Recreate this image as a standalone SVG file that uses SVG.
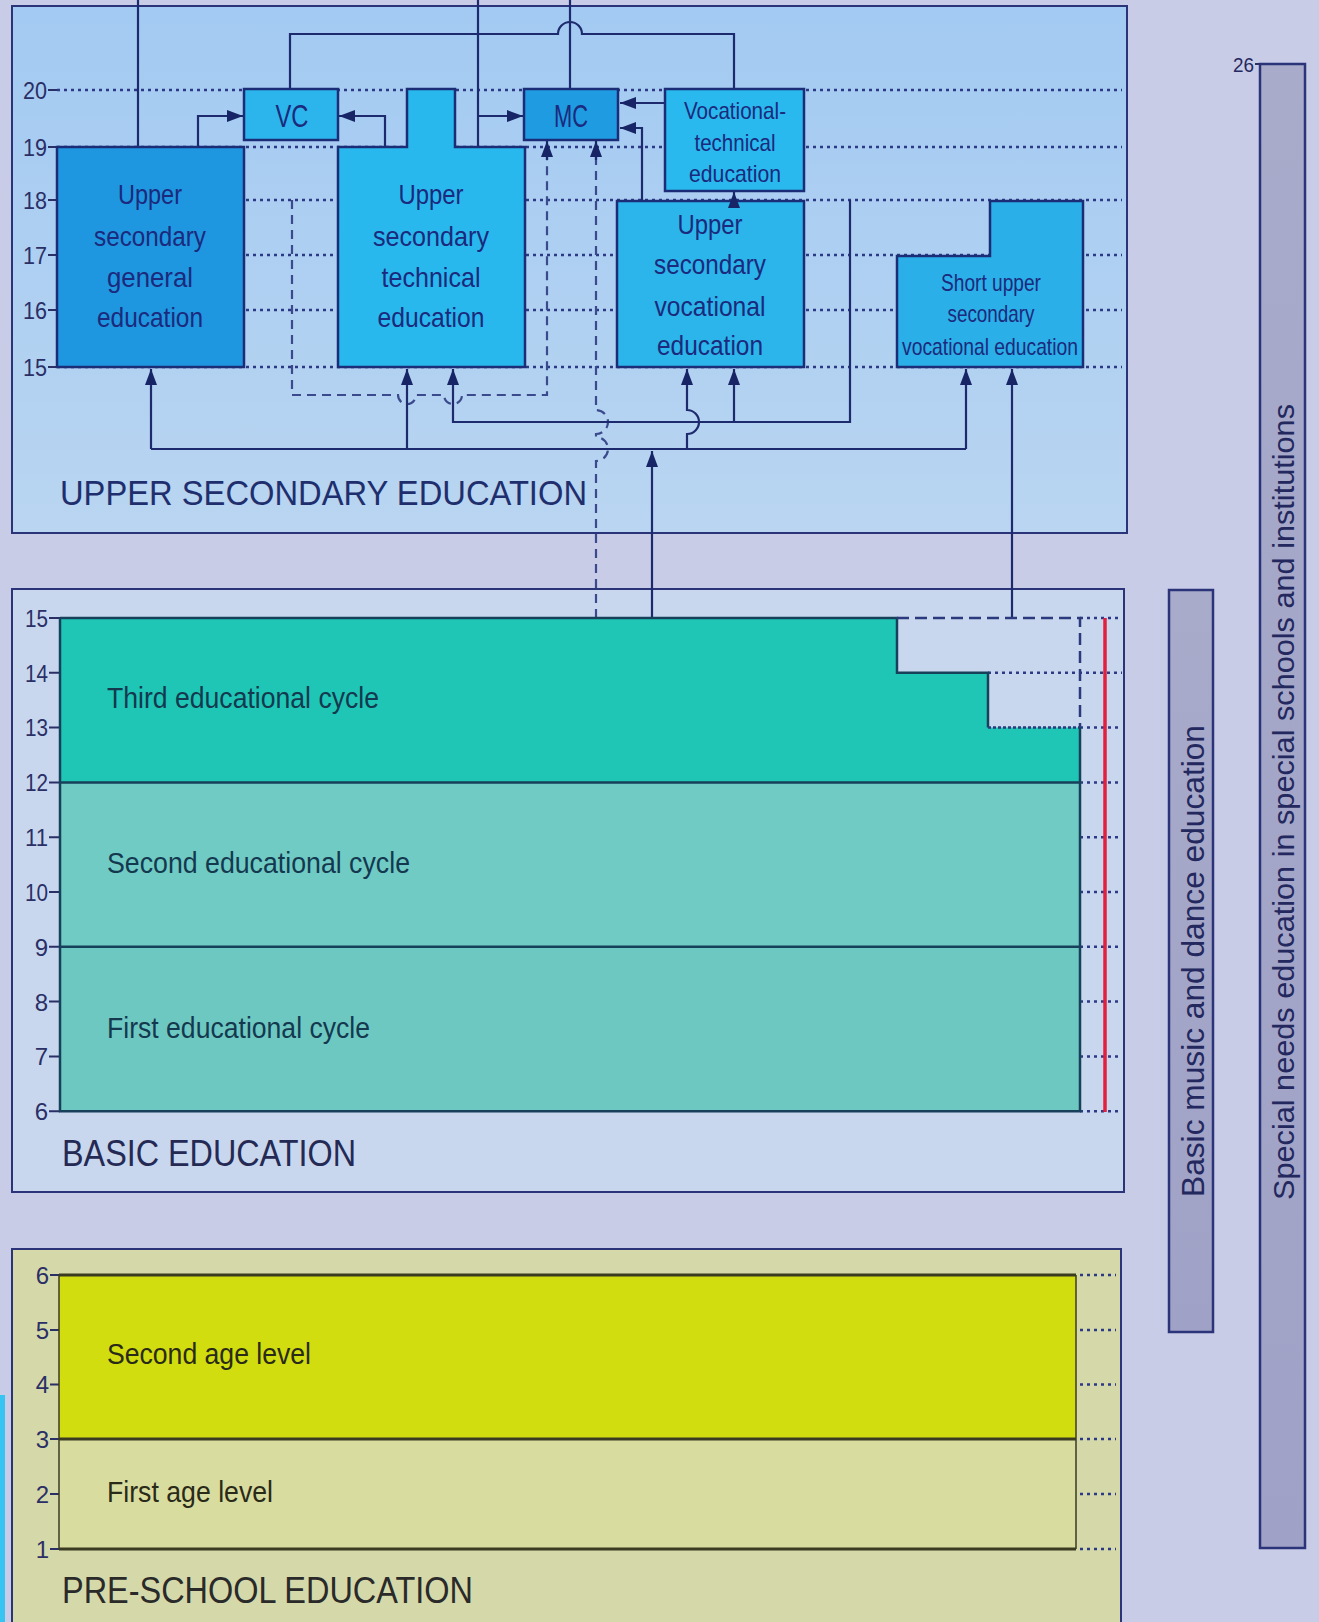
<svg xmlns="http://www.w3.org/2000/svg" width="1319" height="1622" viewBox="0 0 1319 1622">
<defs>
<linearGradient id="gUp" x1="0" y1="0" x2="0" y2="1"><stop offset="0" stop-color="#a3caf2"/><stop offset="1" stop-color="#b9d5f1"/></linearGradient>
<linearGradient id="gBar" x1="0" y1="0" x2="0" y2="1"><stop offset="0" stop-color="#a9abcb"/><stop offset="1" stop-color="#9fa1c6"/></linearGradient>
<marker id="arr" viewBox="0 0 16 12" refX="16" refY="6" markerWidth="16" markerHeight="12" markerUnits="userSpaceOnUse" orient="auto"><path d="M0,0 L16,6 L0,12 z" fill="#172466"/></marker>
<style>
text{font-family:"Liberation Sans",Arial,sans-serif}
.panel{stroke:#2b3478;stroke-width:2}
.box{stroke:#1c2d78;stroke-width:2.5}
.bt{fill:#1b2a7c;font-size:28px;text-anchor:middle}
.bs{fill:#1b2a7c;font-size:24px;text-anchor:middle}
.tick{fill:#2a2f66;font-size:24px;text-anchor:end}
.grid{stroke:#2c3a86;stroke-width:2.5;stroke-dasharray:3 4;fill:none}
.conn{stroke:#1d2a6e;stroke-width:2.2;fill:none}
.dash{stroke:#3a4a8c;stroke-width:2.2;stroke-dasharray:9 6;fill:none}
.tk{stroke:#2a2f66;stroke-width:2}
.cl{fill:#14394f;font-size:30px}
.pl{fill:#2a2a18;font-size:30px}
.title{font-size:36px}
.side{fill:#23285e;font-size:31px}
</style>
</defs>
<rect width="1319" height="1622" fill="#c9cce7"/>
<rect x="0" y="1395" width="5" height="227" fill="#36c4f2"/>

<!-- panels -->
<g id="upper-secondary-panel">
<rect class="panel" x="12" y="6" width="1115" height="527" fill="url(#gUp)"/>
</g>
<g id="basic-panel">
<rect class="panel" x="12" y="589" width="1112" height="603" fill="#c8d7ee"/>
</g>
<g id="preschool-panel">
<rect class="panel" x="12" y="1249" width="1109" height="390" fill="#d5d9a9"/>
</g>

<!-- upper grid -->
<g id="upper-grid">
<path class="grid" d="M57,90 H1122 M57,147 H1122 M57,200 H1122 M57,255 H1122 M57,310 H1122 M57,367 H1122"/>
<path class="tk" d="M48,90 H57 M48,147 H57 M48,200 H57 M48,255 H57 M48,310 H57 M48,367 H57"/>
<text class="tick" x="47" y="99" textLength="24" lengthAdjust="spacingAndGlyphs">20</text>
<text class="tick" x="47" y="156" textLength="24" lengthAdjust="spacingAndGlyphs">19</text>
<text class="tick" x="47" y="209" textLength="24" lengthAdjust="spacingAndGlyphs">18</text>
<text class="tick" x="47" y="264" textLength="24" lengthAdjust="spacingAndGlyphs">17</text>
<text class="tick" x="47" y="319" textLength="24" lengthAdjust="spacingAndGlyphs">16</text>
<text class="tick" x="47" y="376" textLength="24" lengthAdjust="spacingAndGlyphs">15</text>
</g>

<!-- connectors -->
<g id="connectors">
<path class="conn" d="M138,0 V146"/>
<path class="conn" d="M198,146 V116 H243" marker-end="url(#arr)"/>
<path class="conn" d="M385,146 V116 H339" marker-end="url(#arr)"/>
<path class="conn" d="M290,89 V34 H558 A12,12 0 0 1 582,34 H734 V89"/>
<path class="conn" d="M478,0 V146"/>
<path class="conn" d="M478,116 H523" marker-end="url(#arr)"/>
<path class="conn" d="M570,0 V89"/>
<path class="conn" d="M665,103 H620" marker-end="url(#arr)"/>
<path class="conn" d="M642,201 V128 H620" marker-end="url(#arr)"/>
<path class="dash" d="M292,200 V395 H398 A9,9 0 0 0 416,395 H444 A9,9 0 0 0 462,395 H547 V156"/>
<path class="conn" d="M547,160 V141" marker-end="url(#arr)"/>
<path class="dash" d="M596,618 V461 A12,12 0 0 0 596,437 V434 A12,12 0 0 0 596,410 V156"/>
<path class="conn" d="M596,160 V141" marker-end="url(#arr)"/>
<path class="conn" d="M151,449 H966"/>
<path class="conn" d="M151,449 V369" marker-end="url(#arr)"/>
<path class="conn" d="M407,449 V369" marker-end="url(#arr)"/>
<path class="conn" d="M687,449 V434 A12,12 0 0 0 687,410 V369" marker-end="url(#arr)"/>
<path class="conn" d="M966,449 V369" marker-end="url(#arr)"/>
<path class="conn" d="M652,618 V451" marker-end="url(#arr)"/>
<path class="conn" d="M850,200 V422 H453 V369" marker-end="url(#arr)"/>
<path class="conn" d="M734,422 V369" marker-end="url(#arr)"/>
<path class="conn" d="M1012,618 V369" marker-end="url(#arr)"/>
</g>

<!-- upper secondary nodes -->
<g id="upper-secondary-general">
<rect class="box" x="57" y="147" width="187" height="220" fill="#1f97e0"/>
<text class="bt" x="150" y="204" textLength="64" lengthAdjust="spacingAndGlyphs">Upper</text>
<text class="bt" x="150" y="246" textLength="112" lengthAdjust="spacingAndGlyphs">secondary</text>
<text class="bt" x="150" y="287" textLength="86" lengthAdjust="spacingAndGlyphs">general</text>
<text class="bt" x="150" y="327" textLength="106" lengthAdjust="spacingAndGlyphs">education</text>
</g>
<g id="vc">
<rect class="box" x="244" y="89" width="94" height="51" fill="#2bb5ec"/>
<text class="bt" x="292" y="127" font-size="32" textLength="33" lengthAdjust="spacingAndGlyphs" style="font-size:32px">VC</text>
</g>
<g id="upper-secondary-technical">
<path class="box" d="M338,147 H407 V89 H455 V147 H525 V367 H338 Z" fill="#29b8ee"/>
<text class="bt" x="431" y="204" textLength="65" lengthAdjust="spacingAndGlyphs">Upper</text>
<text class="bt" x="431" y="246" textLength="116" lengthAdjust="spacingAndGlyphs">secondary</text>
<text class="bt" x="431" y="287" textLength="99" lengthAdjust="spacingAndGlyphs">technical</text>
<text class="bt" x="431" y="327" textLength="107" lengthAdjust="spacingAndGlyphs">education</text>
</g>
<g id="mc">
<rect class="box" x="524" y="89" width="94" height="51" fill="#1f9be2"/>
<text class="bt" x="571" y="127" textLength="34" lengthAdjust="spacingAndGlyphs" style="font-size:32px">MC</text>
</g>
<g id="vocational-technical">
<rect class="box" x="665" y="89" width="139" height="102" fill="#29b9ef"/>
<text class="bs" x="735" y="119" textLength="102" lengthAdjust="spacingAndGlyphs">Vocational-</text>
<text class="bs" x="735" y="151" textLength="81" lengthAdjust="spacingAndGlyphs">technical</text>
<text class="bs" x="735" y="182" textLength="92" lengthAdjust="spacingAndGlyphs">education</text>
</g>
<g id="upper-secondary-vocational">
<rect class="box" x="617" y="201" width="187" height="166" fill="#2bb5eb"/>
<text class="bt" x="710" y="234" textLength="65" lengthAdjust="spacingAndGlyphs">Upper</text>
<text class="bt" x="710" y="274" textLength="112" lengthAdjust="spacingAndGlyphs">secondary</text>
<text class="bt" x="710" y="316" textLength="111" lengthAdjust="spacingAndGlyphs">vocational</text>
<text class="bt" x="710" y="355" textLength="106" lengthAdjust="spacingAndGlyphs">education</text>
</g>
<path class="conn" d="M734,205 V192" marker-end="url(#arr)"/>
<g id="short-upper-secondary-vocational">
<path class="box" d="M897,256 H990 V201 H1083 V367 H897 Z" fill="#2bafe8"/>
<text class="bs" x="991" y="291" textLength="100" lengthAdjust="spacingAndGlyphs">Short upper</text>
<text class="bs" x="991" y="322" textLength="87" lengthAdjust="spacingAndGlyphs">secondary</text>
<text class="bs" x="990" y="355" textLength="176" lengthAdjust="spacingAndGlyphs">vocational education</text>
</g>
<text x="60" y="505" fill="#1f2f6e" style="font-size:35px" textLength="527" lengthAdjust="spacingAndGlyphs">UPPER SECONDARY EDUCATION</text>

<!-- basic education -->
<g id="basic-grid">
<path class="grid" d="M1080,618 H1122 M988,672.8 H1122 M1080,727.6 H1122 M1080,782.4 H1122 M1080,837.2 H1122 M1080,892 H1122 M1080,946.8 H1122 M1080,1001.6 H1122 M1080,1056.4 H1122 M1080,1111.2 H1122"/>
<path class="tk" d="M49,618 H60 M49,672.8 H60 M49,727.6 H60 M49,782.4 H60 M49,837.2 H60 M49,892 H60 M49,946.8 H60 M49,1001.6 H60 M49,1056.4 H60 M49,1111.2 H60"/>
<text class="tick" x="48" y="627" textLength="23" lengthAdjust="spacingAndGlyphs">15</text>
<text class="tick" x="48" y="682" textLength="23" lengthAdjust="spacingAndGlyphs">14</text>
<text class="tick" x="48" y="736" textLength="23" lengthAdjust="spacingAndGlyphs">13</text>
<text class="tick" x="48" y="791" textLength="23" lengthAdjust="spacingAndGlyphs">12</text>
<text class="tick" x="48" y="846" textLength="23" lengthAdjust="spacingAndGlyphs">11</text>
<text class="tick" x="48" y="901" textLength="23" lengthAdjust="spacingAndGlyphs">10</text>
<text class="tick" x="48" y="956">9</text>
<text class="tick" x="48" y="1011">8</text>
<text class="tick" x="48" y="1065">7</text>
<text class="tick" x="48" y="1120">6</text>
</g>
<g id="third-cycle">
<path d="M60,618 H897 V672.8 H988 V727.6 H1080 V782.4 H60 Z" fill="#1fc6b6"/>
<path d="M60,618 H897 V672.8 H988 V727.6" fill="none" stroke="#17405a" stroke-width="2.5"/>
<path d="M897,618 H1080 V727.6" fill="none" stroke="#2b3a7c" stroke-width="2.5" stroke-dasharray="12 6"/>
<path d="M988,727.6 H1080" fill="none" stroke="#2b3a7c" stroke-width="2.5" stroke-dasharray="3 2"/>
<text class="cl" x="107" y="708" textLength="272" lengthAdjust="spacingAndGlyphs">Third educational cycle</text>
</g>
<g id="second-cycle">
<rect x="60" y="782.4" width="1020" height="164.4" fill="#70cbc5"/>
<text class="cl" x="107" y="873" textLength="303" lengthAdjust="spacingAndGlyphs">Second educational cycle</text>
</g>
<g id="first-cycle">
<rect x="60" y="946.8" width="1020" height="164.4" fill="#6ec8c2"/>
<text class="cl" x="107" y="1038" textLength="263" lengthAdjust="spacingAndGlyphs">First educational cycle</text>
</g>
<path d="M60,618 V1111.2 H1080 V727.6 M60,782.4 H1080 M60,946.8 H1080" fill="none" stroke="#17405a" stroke-width="2.5"/>
<path d="M1105,618 V1112" stroke="#e21f3c" stroke-width="3.5"/>
<text x="62" y="1166" fill="#252a55" style="font-size:36px" textLength="294" lengthAdjust="spacingAndGlyphs">BASIC EDUCATION</text>

<!-- pre-school -->
<g id="preschool-grid">
<path class="grid" d="M1080,1275 H1116 M1080,1330 H1116 M1080,1384.5 H1116 M1080,1439 H1116 M1080,1494 H1116 M1080,1549 H1116"/>
<path class="tk" d="M50,1275 H59 M50,1330 H59 M50,1384.5 H59 M50,1439 H59 M50,1494 H59 M50,1549 H59"/>
<text class="tick" x="49" y="1284" fill="#2a2a2a">6</text>
<text class="tick" x="49" y="1339">5</text>
<text class="tick" x="49" y="1393">4</text>
<text class="tick" x="49" y="1448">3</text>
<text class="tick" x="49" y="1503">2</text>
<text class="tick" x="49" y="1558">1</text>
</g>
<g id="second-age-level">
<rect x="59" y="1275" width="1017" height="164" fill="#d1dd0e"/>
<text class="pl" x="107" y="1364" textLength="204" lengthAdjust="spacingAndGlyphs">Second age level</text>
</g>
<g id="first-age-level">
<rect x="59" y="1439" width="1017" height="110" fill="#d9dc9f"/>
<text class="pl" x="107" y="1502" textLength="166" lengthAdjust="spacingAndGlyphs">First age level</text>
</g>
<path d="M59,1275 H1076 M59,1439 H1076 M59,1549 H1076" stroke="#3b3b22" stroke-width="3" fill="none"/>
<path d="M59,1275 V1549 M1076,1275 V1549" stroke="#3b3b22" stroke-width="1.5" fill="none"/>
<text x="62" y="1603" fill="#2a2a2a" style="font-size:37px" textLength="411" lengthAdjust="spacingAndGlyphs">PRE-SCHOOL EDUCATION</text>

<!-- side bars -->
<g id="basic-music-dance">
<rect x="1169" y="590" width="44" height="742" fill="url(#gBar)" stroke="#2b3478" stroke-width="2.5"/>
<text class="side" transform="translate(1204,1197) rotate(-90)" textLength="472" lengthAdjust="spacingAndGlyphs">Basic music and dance education</text>
</g>
<g id="special-needs">
<rect x="1260" y="64" width="45" height="1484" fill="url(#gBar)" stroke="#2b3478" stroke-width="2.5"/>
<path class="tk" d="M1255,64 H1260"/>
<text x="1254" y="72" fill="#23285e" style="font-size:21px" text-anchor="end" textLength="21" lengthAdjust="spacingAndGlyphs">26</text>
<text class="side" transform="translate(1294,1200) rotate(-90)" style="font-size:30px" textLength="796" lengthAdjust="spacingAndGlyphs">Special needs education in special schools and institutions</text>
</g>
</svg>
